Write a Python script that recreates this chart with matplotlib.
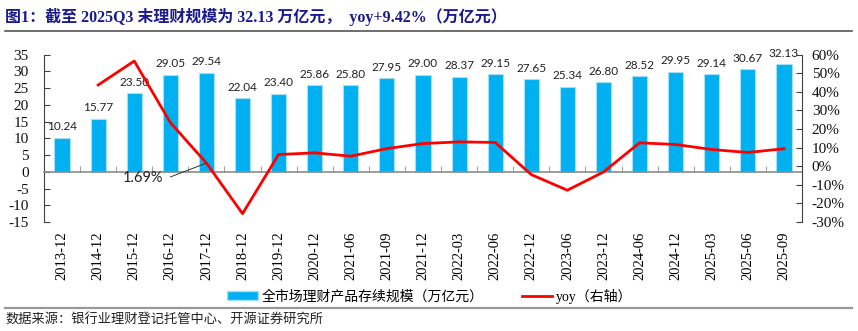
import matplotlib
matplotlib.use("Agg")
import matplotlib.pyplot as plt
from matplotlib.lines import Line2D
from matplotlib.patches import Patch
import numpy as np

categories = ["2013-12", "2014-12", "2015-12", "2016-12", "2017-12", "2018-12",
              "2019-12", "2020-12", "2021-06", "2021-09", "2021-12", "2022-03",
              "2022-06", "2022-12", "2023-06", "2023-12", "2024-06", "2024-12",
              "2025-03", "2025-06", "2025-09"]
scale = [10.24, 15.77, 23.50, 29.05, 29.54, 22.04, 23.40, 25.86, 25.80, 27.95,
         29.00, 28.37, 29.15, 27.65, 25.34, 26.80, 28.52, 29.95, 29.14, 30.67, 32.13]
yoy = [None, 43.7, 56.6, 23.5, 1.69, -25.5, 6.3, 7.2, 5.4, 9.5, 12.2, 13.1,
       12.8, -4.5, -12.9, -3.1, 12.6, 11.7, 9.0, 7.4, 9.42]
left_ticks = [-15, -10, -5, 0, 5, 10, 15, 20, 25, 30, 35]
right_ticks = [-30, -20, -10, 0, 10, 20, 30, 40, 50, 60]

title = "图1：截至 2025Q3 末理财规模为 32.13 万亿元，  yoy+9.42%（万亿元）"
source = "数据来源：银行业理财登记托管中心、开源证券研究所"
bar_label = "全市场理财产品存续规模（万亿元）"
line_label = "yoy（右轴）"

SERIF = ["Liberation Serif", "Noto Sans CJK SC", "DejaVu Sans"]
CJK = ["Noto Sans CJK SC", "DejaVu Sans"]
plt.rcParams["font.family"] = SERIF

fig = plt.figure(figsize=(8.58, 3.31), dpi=100)
ax = fig.add_axes([44 / 858, 1 - 222 / 331, (802 - 44) / 858, (222 - 54.7) / 331])
ax2 = ax.twinx()

x = np.arange(len(categories))
ax.bar(x, scale, width=0.42, color="#00B0F0", edgecolor="#A6E0F7",
       linewidth=0.8, zorder=2)
for xi, v in zip(x, scale):
    ax.annotate(f"{v:.2f}", (xi, v), xytext=(0, 4), textcoords="offset points",
                ha="center", va="bottom", fontsize=8.5, family="Lato",
                color="#222222", zorder=5)

ax.set_xlim(-0.5, len(categories) - 0.5)
ax.set_ylim(-15, 35)
ax.set_yticks(left_ticks)
ax.set_yticklabels([str(t) for t in left_ticks])
ax.tick_params(axis="y", direction="in", length=4, pad=11, labelsize=11,
               color="#404040", labelcolor="#111111")

# zero line as bottom spine with boundary ticks
ax.spines["bottom"].set_position(("data", 0))
ax.spines["bottom"].set_color("#8C8C8C")
ax.spines["bottom"].set_linewidth(1.2)
ax.spines["bottom"].set_zorder(3)
ax.set_xticks(x)
ax.set_xticks(x[:-1] + 0.5, minor=True)
ax.tick_params(axis="x", which="major", length=0, labelbottom=False)
ax.tick_params(axis="x", which="minor", direction="in", length=4, color="#8C8C8C")

sec = ax.secondary_xaxis("bottom")
sec.set_xticks(x)
sec.set_xticklabels(categories, rotation=90, fontsize=10.5)
sec.tick_params(length=0, pad=7)
sec.spines["bottom"].set_visible(False)

ax.spines["top"].set_visible(False)
ax2.spines["top"].set_visible(False)
ax2.spines["bottom"].set_visible(False)
ax.spines["left"].set_color("#404040")
ax.spines["right"].set_visible(False)
ax2.spines["left"].set_visible(False)
ax2.spines["right"].set_color("#404040")

yx = [xi for xi, v in zip(x, yoy) if v is not None]
yv = [v for v in yoy if v is not None]
ax2.plot(yx, yv, color="#FF0000", linewidth=2.0, zorder=4)
ax2.set_ylim(-30, 60)
ax2.set_yticks(right_ticks)
ax2.set_yticklabels([f"{t}%" for t in right_ticks])
ax2.tick_params(axis="y", direction="in", length=4, pad=7, labelsize=11,
                color="#404040", labelcolor="#111111")

ax2.annotate("1.69%", xy=(4, 1.69), xytext=(2.25, -6.1), textcoords="data",
             ha="center", va="center", fontsize=10.5, family="Lato", color="#222222",
             zorder=6,
             arrowprops=dict(arrowstyle="-", color="#333333", lw=0.7, shrinkA=3,
                             shrinkB=0,
                             connectionstyle="angle,angleA=0,angleB=21,rad=0"))

# title, rules, source
fig.text(5 / 858, 1 - 17 / 331, title, fontsize=11.5, fontweight="bold",
         color="#1A1A8C", va="center", ha="left", family=SERIF)
fig.add_artist(Line2D([5 / 858, 852 / 858], [1 - 31 / 331, 1 - 31 / 331],
                      color="#555555", linewidth=1.2))
fig.add_artist(Line2D([5 / 858, 852 / 858], [1 - 308 / 331, 1 - 308 / 331],
                      color="#999999", linewidth=1.6))
fig.text(5 / 858, 1 - 320 / 331, source, fontsize=9.5, color="#222222",
         va="center", ha="left", family=CJK)

handles = [Patch(facecolor="#00B0F0", edgecolor="#A6E0F7"),
           Line2D([0], [0], color="#FF0000", linewidth=2.0)]
fig.legend(handles, [bar_label, line_label], loc="center",
           bbox_to_anchor=(430 / 858, 1 - 296 / 331), ncol=2, frameon=False,
           prop={"family": SERIF, "size": 10}, handlelength=2.2,
           handleheight=0.6, handletextpad=0.3, columnspacing=2.7)

fig.savefig("out.png", dpi=100)
